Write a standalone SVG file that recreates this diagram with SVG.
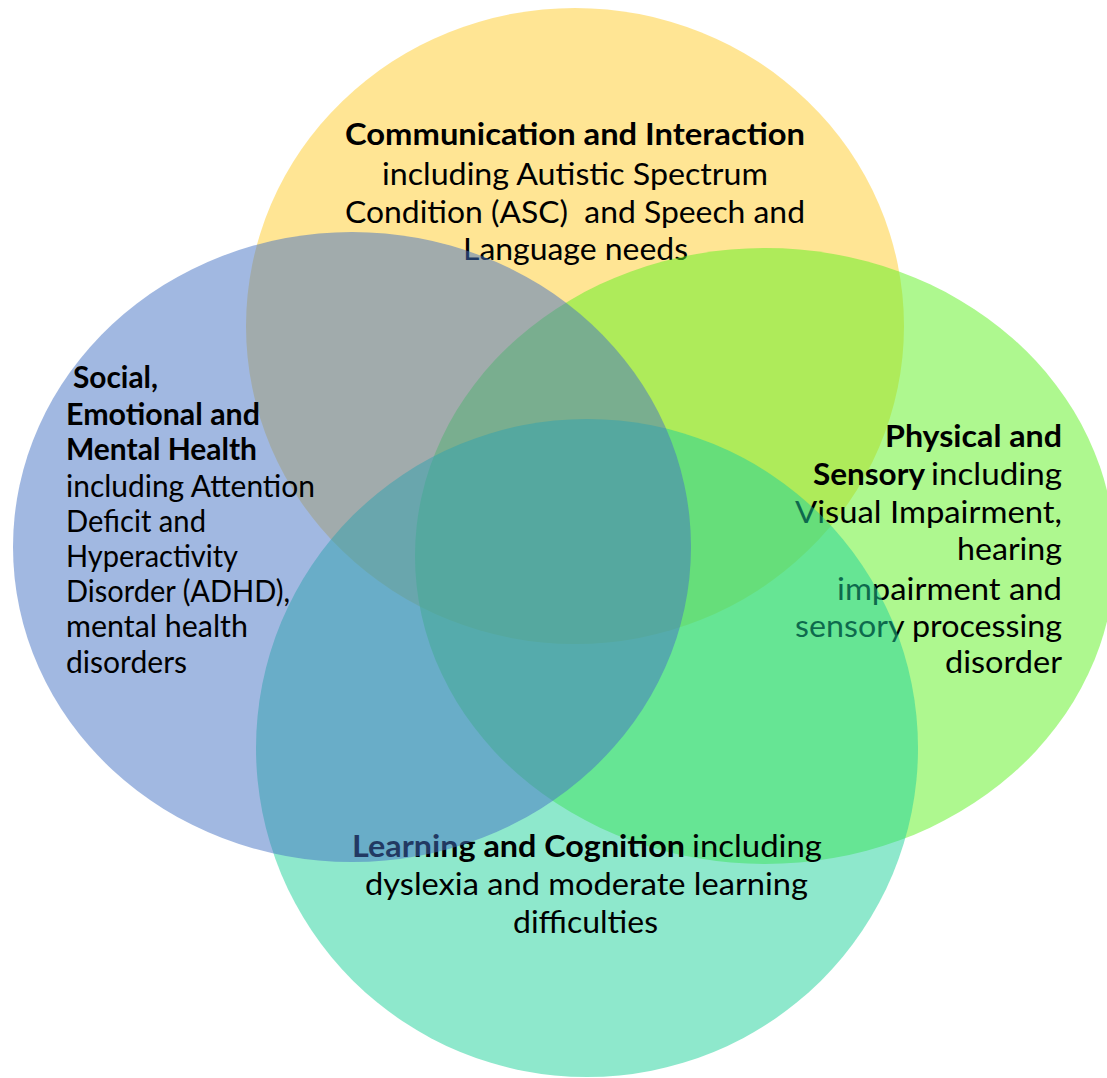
<svg xmlns="http://www.w3.org/2000/svg" width="1107" height="1078" viewBox="0 0 1107 1078">
  <style>
    .t { font-family: Lato, "Open Sans", "Liberation Sans", sans-serif; font-size: 30px; fill: #000; }
    .b { font-weight: bold; }
    .m { text-anchor: middle; }
    .e { text-anchor: end; }
  </style>
  <rect width="1107" height="1078" fill="#ffffff"/>
  <g id="communication">
    <ellipse cx="575" cy="326" rx="329" ry="318" fill="#FFC000" fill-opacity="0.42"/>
    <text class="t b" x="345" y="145" textLength="460" lengthAdjust="spacingAndGlyphs">Communication and Interaction</text>
    <text class="t" x="382" y="185" textLength="386" lengthAdjust="spacingAndGlyphs">including Autistic Spectrum</text>
    <text class="t" x="345" y="223" textLength="460" lengthAdjust="spacingAndGlyphs" xml:space="preserve">Condition (ASC)  and Speech and</text>
    <text class="t" x="463" y="260" textLength="225" lengthAdjust="spacingAndGlyphs">Language needs</text>
  </g>
  <g id="physical">
    <ellipse cx="765" cy="556" rx="350" ry="308" fill="#5DF11F" fill-opacity="0.5"/>
    <text class="t b" x="885" y="447" textLength="177" lengthAdjust="spacingAndGlyphs">Physical and</text>
    <text class="t b" x="813" y="485" textLength="112" lengthAdjust="spacingAndGlyphs">Sensory</text>
    <text class="t" x="931" y="485" textLength="131" lengthAdjust="spacingAndGlyphs">including</text>
    <text class="t" x="795" y="523" textLength="267" lengthAdjust="spacingAndGlyphs">Visual Impairment,</text>
    <text class="t" x="957" y="560" textLength="105" lengthAdjust="spacingAndGlyphs">hearing</text>
    <text class="t" x="837" y="600" textLength="225" lengthAdjust="spacingAndGlyphs">impairment and</text>
    <text class="t" x="795" y="637" textLength="267" lengthAdjust="spacingAndGlyphs">sensory processing</text>
    <text class="t" x="945" y="673" textLength="117" lengthAdjust="spacingAndGlyphs">disorder</text>
  </g>
  <g id="learning">
    <ellipse cx="587" cy="748" rx="331" ry="329" fill="#1DD199" fill-opacity="0.5"/>
    <text class="t b" x="352" y="857" textLength="333" lengthAdjust="spacingAndGlyphs">Learning and Cognition</text>
    <text class="t" x="692" y="857" textLength="130" lengthAdjust="spacingAndGlyphs">including</text>
    <text class="t" x="365" y="895" textLength="443" lengthAdjust="spacingAndGlyphs">dyslexia and moderate learning</text>
    <text class="t" x="513" y="933" textLength="145" lengthAdjust="spacingAndGlyphs">difficulties</text>
  </g>
  <g id="social">
    <ellipse cx="352" cy="547" rx="339" ry="315" fill="#4472C4" fill-opacity="0.5"/>
    <text class="t b" x="73" y="388" textLength="85" lengthAdjust="spacingAndGlyphs">Social,</text>
    <text class="t b" x="66" y="425" textLength="194" lengthAdjust="spacingAndGlyphs">Emotional and</text>
    <text class="t b" x="66" y="460" textLength="191" lengthAdjust="spacingAndGlyphs">Mental Health</text>
    <text class="t" x="66" y="497" textLength="249" lengthAdjust="spacingAndGlyphs">including Attention</text>
    <text class="t" x="66" y="532" textLength="140" lengthAdjust="spacingAndGlyphs">Deficit and</text>
    <text class="t" x="66" y="567" textLength="172" lengthAdjust="spacingAndGlyphs">Hyperactivity</text>
    <text class="t" x="66" y="602" textLength="224" lengthAdjust="spacingAndGlyphs">Disorder (ADHD),</text>
    <text class="t" x="66" y="637" textLength="182" lengthAdjust="spacingAndGlyphs">mental health</text>
    <text class="t" x="66" y="673" textLength="121" lengthAdjust="spacingAndGlyphs">disorders</text>
  </g>
  <g id="connectors"></g>
</svg>
